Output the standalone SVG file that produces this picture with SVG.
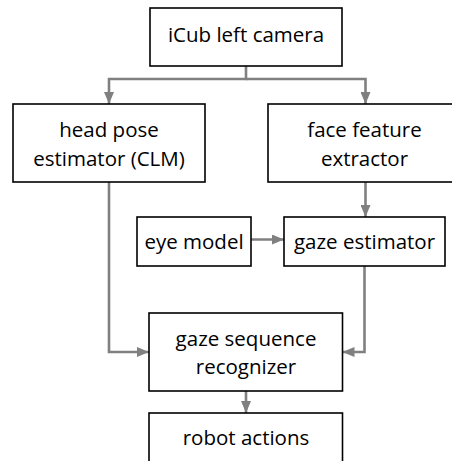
<svg xmlns="http://www.w3.org/2000/svg" width="452" height="461" viewBox="0 0 452 461">
<style>
.box{fill:#fff;stroke:#000;stroke-width:1.6}
.t{font-family:"Open Sans","Liberation Sans",sans-serif;font-size:20.5px;fill:#000;text-anchor:middle}
.c{fill:none;stroke:#808080;stroke-width:2.6}
</style>
<defs>
<marker id="ah" viewBox="0 0 12 10" refX="12" refY="5" markerWidth="12" markerHeight="10" markerUnits="userSpaceOnUse" orient="auto">
<path d="M0,0 L12,5 L0,10 Z" fill="#808080"/>
</marker>
</defs>
<rect width="452" height="461" fill="#fff"/>
<g id="connectors">
<path class="c" d="M246,66 V79 H109 V104" marker-end="url(#ah)"/>
<path class="c" d="M246,79 H365.5 V104" marker-end="url(#ah)"/>
<path class="c" d="M365.5,182 V217" marker-end="url(#ah)"/>
<path class="c" d="M251,239.5 H284" marker-end="url(#ah)"/>
<path class="c" d="M109,182 V352 H149" marker-end="url(#ah)"/>
<path class="c" d="M364.5,266 V352 H342.5" marker-end="url(#ah)"/>
<path class="c" d="M246,391 V413" marker-end="url(#ah)"/>
</g>
<g id="camera">
<rect class="box" x="150" y="8" width="192" height="58"/>
<text class="t" x="246" y="42">iCub left camera</text>
</g>
<g id="headpose">
<rect class="box" x="13" y="104" width="192" height="78"/>
<text class="t" x="109" y="137">head pose</text>
<text class="t" x="109" y="166">estimator (CLM)</text>
</g>
<g id="facefeature">
<rect class="box" x="268" y="104" width="194" height="78"/>
<text class="t" x="364.5" y="137">face feature</text>
<text class="t" x="364.5" y="166">extractor</text>
</g>
<g id="eyemodel">
<rect class="box" x="137" y="217" width="114" height="49"/>
<text class="t" x="194" y="249">eye model</text>
</g>
<g id="gazeestimator">
<rect class="box" x="284" y="217" width="161" height="49"/>
<text class="t" x="364.5" y="249">gaze estimator</text>
</g>
<g id="gazesequence">
<rect class="box" x="149" y="313" width="193.5" height="78"/>
<text class="t" x="246" y="346">gaze sequence</text>
<text class="t" x="246" y="374">recognizer</text>
</g>
<g id="robotactions">
<rect class="box" x="149" y="413" width="193.5" height="60"/>
<text class="t" x="246" y="445">robot actions</text>
</g>
</svg>
